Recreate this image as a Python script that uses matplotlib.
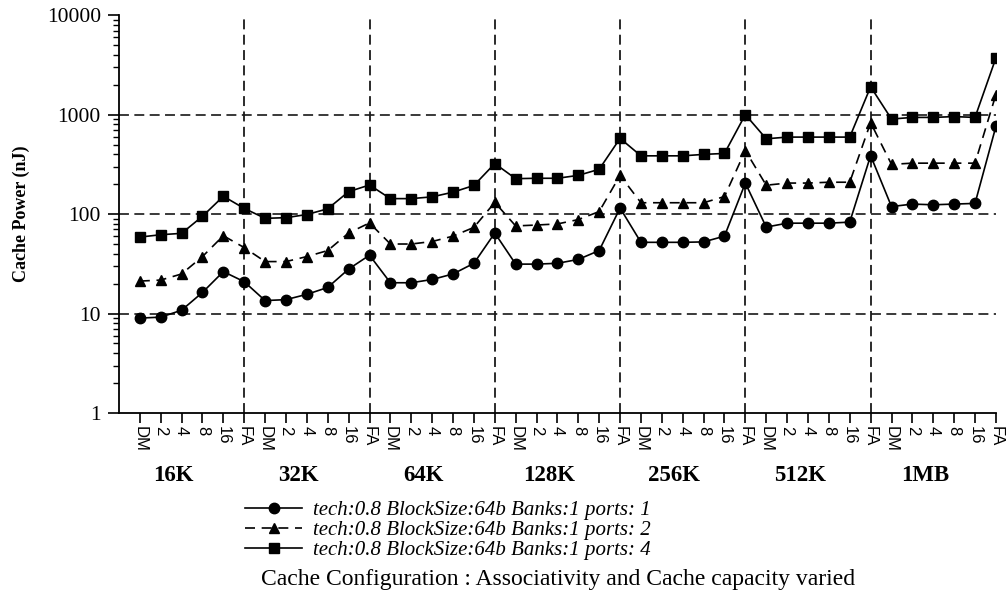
import numpy as np
import matplotlib
matplotlib.use("Agg")
import matplotlib.pyplot as plt

# tick labels along the x axis (7 cache sizes x 6 associativities)
assoc = ["DM", "2", "4", "8", "16", "FA"]
sizes = ["16K", "32K", "64K", "128K", "256K", "512K", "1MB"]

# Cache power (nJ) per configuration
ports1 = [9.0, 9.2, 10.8, 16.3, 26.4, 20.9,
          13.5, 13.8, 15.6, 18.3, 28.0, 38.6,
          20.4, 20.4, 22.0, 25.0, 32.0, 64.5,
          31.4, 31.4, 32.0, 35.0, 43.0, 115.0,
          52.0, 52.0, 52.0, 52.5, 60.0, 205.0,
          74.0, 81.0, 81.0, 81.0, 83.0, 387.0,
          119.0, 126.0, 124.0, 126.0, 128.0, 760.0]
ports2 = [21.2, 21.7, 25.0, 37.4, 60.6, 46.0,
          33.3, 33.3, 37.4, 43.0, 64.5, 81.5,
          50.0, 50.0, 53.0, 60.0, 73.5, 131.0,
          76.0, 77.6, 79.6, 88.0, 106.0, 245.0,
          130.0, 130.0, 130.0, 130.0, 150.0, 435.0,
          195.0, 205.0, 205.0, 209.0, 209.0, 830.0,
          316.0, 325.0, 325.0, 325.0, 325.0, 1590.0]
ports4 = [58.7, 62.0, 64.0, 95.0, 151.0, 114.0,
          90.6, 92.0, 99.0, 113.0, 168.0, 196.0,
          143.0, 143.0, 149.0, 166.0, 194.0, 322.0,
          227.0, 229.0, 229.0, 245.0, 282.0, 577.0,
          385.0, 385.0, 385.0, 398.0, 407.0, 1000.0,
          571.0, 594.0, 594.0, 594.0, 594.0, 1905.0,
          902.0, 937.0, 937.0, 955.0, 937.0, 3710.0]

labels = ["tech:0.8 BlockSize:64b Banks:1 ports: 1",
          "tech:0.8 BlockSize:64b Banks:1 ports: 2",
          "tech:0.8 BlockSize:64b Banks:1 ports: 4"]

serif = "Liberation Serif"
sans = "Liberation Sans"

x = np.arange(1, len(ports1) + 1)

fig = plt.figure(figsize=(10.08, 5.93), dpi=100)
ax = fig.add_axes([0.118, 0.3035, 0.870, 0.671])

# dashed grid: decades and size boundaries
for v in [10, 100, 1000]:
    ax.axhline(v, color="#2a2a2a", lw=1.3, ls=(0, (5.5, 3)), zorder=1)
for k in range(1, len(sizes)):
    ax.axvline(6 * k, color="#1a1a1a", lw=1.3, ls=(0, (5.5, 3)), zorder=1)

h1, = ax.plot(x, ports1, color="black", lw=1.2, marker="o", ms=7.5, zorder=3)
h2, = ax.plot(x, ports2, color="black", lw=1.2, ls=(0, (6, 4)), marker="^", ms=7.5, zorder=3)
h3, = ax.plot(x, ports4, color="black", lw=1.2, marker="s", ms=7.5, zorder=3)

ax.set_yscale("log")
ax.set_ylim(1, 10000)
ax.set_xlim(0, 42)

ax.spines["top"].set_visible(False)
ax.spines["right"].set_visible(False)
ax.spines["left"].set_linewidth(1.3)
ax.spines["bottom"].set_linewidth(1.3)

ax.set_xticks(x)
ax.set_xticklabels(assoc * len(sizes), rotation=270, fontfamily=sans, fontsize=12)
ax.tick_params(axis="x", direction="out", length=7, width=1.2, pad=2)
ax.tick_params(axis="y", which="major", direction="out", length=8, width=1.2, pad=5, labelsize=15.5)
ax.tick_params(axis="y", which="minor", direction="out", length=4, width=1.0)
ax.set_yticks([1, 10, 100, 1000, 10000])
ax.set_yticklabels(["1", "10", "100", "1000", "10000"], fontfamily=serif)

ax.set_ylabel("Cache Power (nJ)", fontfamily=serif, fontweight="bold", fontsize=13)
ax.yaxis.set_label_coords(-0.1015, 0.5)

for i, s in enumerate(sizes):
    ax.text(6 * i + 2.6, -0.158, s, transform=ax.get_xaxis_transform(),
            ha="center", va="center", fontfamily=serif, fontweight="bold", fontsize=16.5)

fig.legend([h1, h2, h3], labels, loc="upper left", bbox_to_anchor=(0.2348, 0.1703),
           frameon=False, handlelength=2.75, handletextpad=0.5, labelspacing=0.03,
           prop={"family": serif, "style": "italic", "size": 15}, borderaxespad=0)

fig.text(0.554, 0.022, "Cache Configuration : Associativity and Cache capacity varied",
         ha="center", va="center", fontfamily=serif, fontsize=17)

fig.savefig("out.png", dpi=100)
